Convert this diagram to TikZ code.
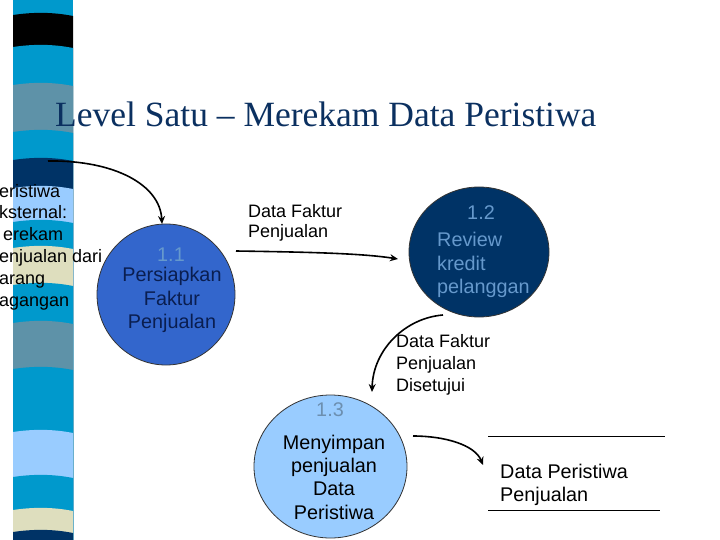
\documentclass[tikz,border=0pt]{standalone}
\usepackage{fontspec}
\setmainfont{Liberation Serif}
\newfontfamily\arialf{Liberation Sans}
\usetikzlibrary{arrows.meta,shapes.geometric}
\definecolor{stripblue}{HTML}{0099CC}
\definecolor{stripteal}{HTML}{5E92A8}
\definecolor{navy}{HTML}{003366}
\definecolor{lightblue}{HTML}{99CCFF}
\definecolor{beige}{HTML}{DEDEBE}
\definecolor{royal}{HTML}{3366CC}
\definecolor{titlecol}{HTML}{0B3060}
\definecolor{numcol}{HTML}{6699CC}
\definecolor{darktext}{HTML}{0A1E50}
\definecolor{num13}{HTML}{6C8FB0}
\newcommand\myband[2]{\fill[#2] (13,#1) .. controls (33,#1-3) and (53,#1-3) .. (73,#1+1) -- (73,540) -- (13,540) -- cycle;}
\tikzset{
  body/.style={font=\arialf\fontsize{18}{22}\selectfont, inner sep=0pt, align=center},
  big/.style={font=\arialf\fontsize{19.8}{23.3}\selectfont},
  proc/.style={draw=black!80, line width=0.8pt, ellipse, inner sep=0pt},
  flow/.style={line width=1.6pt, -{Stealth[length=8pt,width=7pt]}},
}
\begin{document}
\begin{tikzpicture}[x=1pt,y=-1pt]
\useasboundingbox (0,0) rectangle (720,540);
\fill[white] (0,0) rectangle (720,540);
% decorative strip
\fill[stripblue] (13,0) rectangle (73,540);
\myband{15}{black}
\myband{47}{stripblue}
\myband{85}{stripteal}
\myband{132}{stripblue}
\myband{160}{navy}
\myband{188}{lightblue}
\myband{222}{stripblue}
\myband{248}{beige}
\myband{285}{stripblue}
\myband{323}{stripteal}
\myband{369}{stripblue}
\myband{432}{lightblue}
\myband{477}{stripblue}
\myband{510}{beige}
\myband{532}{navy}
% title
\node[anchor=base west, inner sep=0pt, text=titlecol, font=\fontsize{35.5}{40}\selectfont] (title) at (55,127) {Level Satu – Merekam Data Peristiwa};
% left clipped text
\node[body, align=left, anchor=west, font=\arialf\fontsize{18}{21.8}\selectfont] (ext) at (-1,247) {eristiwa\\ksternal:\\\hspace{4pt}erekam\\enjualan dari\\arang\\agangan};
% processes
\node[proc, fill=royal, minimum width=138pt, minimum height=141pt] (p11) at (166,294.5) {};
\node[body, big, text=numcol] (n11) at (171,255) {1.1};
\node[body, big, text=darktext] (t11) at (172,300) {Persiapkan\\Faktur\\Penjualan};
\node[proc, fill=navy, minimum width=140pt, minimum height=130pt] (p12) at (479,252) {};
\node[body, big, text=numcol] (n12) at (481,213) {1.2};
\node[body, big, text=numcol, align=left, anchor=west] (t12) at (437,265) {Review\\kredit\\pelanggan};
\node[proc, fill=lightblue, minimum width=153pt, minimum height=143pt] (p13) at (330.5,466.5) {};
\node[body, big, text=num13] (n13) at (330,410) {1.3};
\node[body, big, text=black] (t13) at (334,477) {Menyimpan\\penjualan\\Data\\Peristiwa};
% data store
\coordinate (ds1) at (488,436);
\coordinate (ds2) at (665,436);
\coordinate (ds3) at (488,510);
\coordinate (ds4) at (660,510);
\draw[line width=1pt] (ds1) -- (ds2);
\draw[line width=1pt] (ds3) -- (ds4);
\node[body, big, align=left, anchor=west] (store) at (500,485) {Data Peristiwa\\Penjualan};
% labels
\node[body, align=left, anchor=west, font=\arialf\fontsize{18}{20.5}\selectfont] (l1) at (248,223) {Data Faktur\\Penjualan};
\node[body, align=left, anchor=west, font=\arialf\fontsize{18}{22}\selectfont] (l2) at (396,365) {Data Faktur\\Penjualan\\Disetujui};
% flows
\coordinate (s1) at (48,161);
\coordinate (e1) at (162,224);
\draw[flow] (s1) .. controls (115,160) and (160,185) .. (e1);
\coordinate (s2) at (236,251);
\coordinate (e2) at (398,259);
\draw[flow] (s2) .. controls (300,252) and (360,253) .. (e2);
\coordinate (s3) at (443,315);
\coordinate (e3) at (372,392);
\draw[flow] (s3) .. controls (405,318) and (373,350) .. (e3);
\coordinate (s4) at (413,436);
\coordinate (e4) at (483,465);
\draw[flow] (s4) .. controls (445,436) and (475,445) .. (e4);
\end{tikzpicture}
\end{document}
